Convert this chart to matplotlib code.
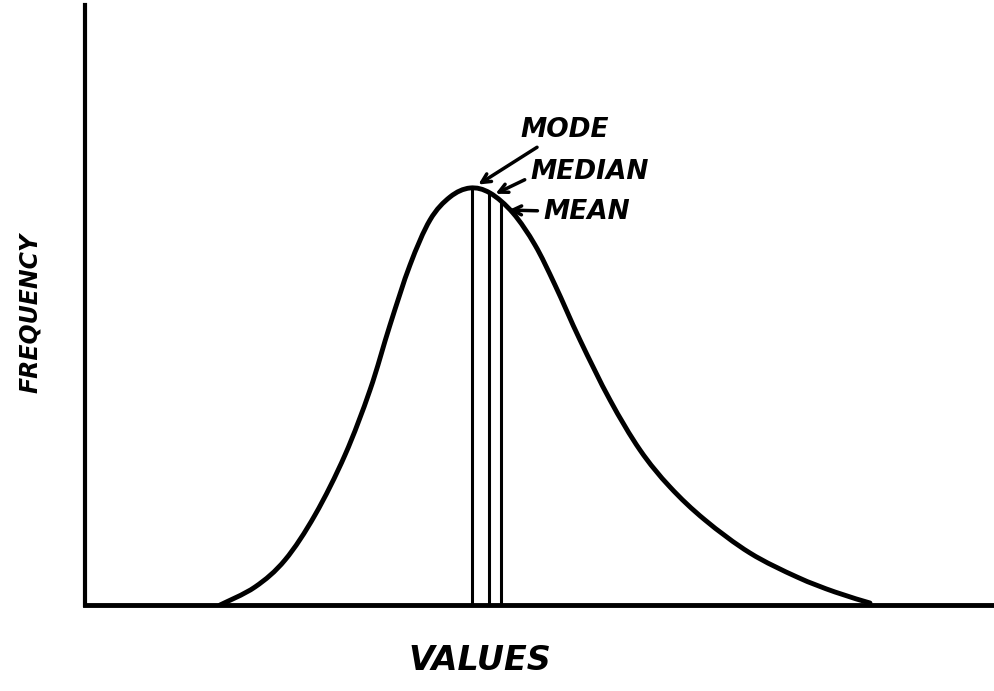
import matplotlib.pyplot as plt
import numpy as np
from matplotlib.path import Path
from matplotlib.patches import PathPatch

# curve (arbitrary value / frequency units)
values = [135, 170, 200, 230, 260, 285, 305, 325, 345, 365, 385, 405,
          428, 450, 470, 495, 525, 555, 585, 620, 665, 712, 750, 785]
frequency = [0, 18, 45, 90, 150, 215, 280, 340, 385, 408, 417, 412,
             392, 360, 320, 265, 205, 155, 118, 85, 52, 28, 13, 2]

stat_names = ['MODE', 'MEDIAN', 'MEAN']
stat_x = [387, 404, 416]
stat_top = [417, 412, 402]

fig = plt.figure(figsize=(9.94, 6.91), dpi=100)
ax = fig.add_axes([85 / 994, 86 / 691, 909 / 994, 600 / 691])
ax.set_xlim(0, 909)
ax.set_ylim(0, 600)

# smooth the hand-read points with a Catmull-Rom style spline
x = np.array(values, float)
y = np.array(frequency, float)
verts = [(x[0], y[0])]
codes = [Path.MOVETO]
for i in range(len(x) - 1):
    p0 = np.array([x[max(i - 1, 0)], y[max(i - 1, 0)]])
    p1 = np.array([x[i], y[i]])
    p2 = np.array([x[i + 1], y[i + 1]])
    p3 = np.array([x[min(i + 2, len(x) - 1)], y[min(i + 2, len(x) - 1)]])
    c1 = p1 + (p2 - p0) / 6
    c2 = p2 - (p3 - p1) / 6
    verts += [tuple(c1), tuple(c2), tuple(p2)]
    codes += [Path.CURVE4] * 3
ax.add_patch(PathPatch(Path(verts, codes), fill=False, lw=3.5,
                       color='black', capstyle='round', joinstyle='round'))

for sx, top in zip(stat_x, stat_top):
    ax.plot([sx, sx], [0, top], color='black', lw=2.2)

font = dict(fontsize=19, fontweight='bold', fontstyle='italic',
            family='DejaVu Sans', color='black')
arrow = dict(arrowstyle='->', lw=2.5, color='black', mutation_scale=16)
ax.annotate(stat_names[0], xy=(stat_x[0] + 4, stat_top[0] + 2), xytext=(435, 475),
            va='center', ha='left', arrowprops=arrow, **font)
ax.annotate(stat_names[1], xy=(stat_x[1] + 4, stat_top[1] - 2), xytext=(445, 433),
            va='center', ha='left', arrowprops=dict(arrow, relpos=(0, 0.3)), **font)
ax.annotate(stat_names[2], xy=(stat_x[2] + 5, 395), xytext=(458, 393),
            va='center', ha='left', arrowprops=arrow, **font)

for side in ['top', 'right']:
    ax.spines[side].set_visible(False)
ax.spines['left'].set_linewidth(3)
ax.spines['bottom'].set_linewidth(3.5)
ax.set_xticks([])
ax.set_yticks([])

fig.text(480 / 994, 1 - 660 / 691, 'VALUES', fontsize=24, fontweight='bold',
         fontstyle='italic', ha='center', va='center')
fig.text(30 / 994, 1 - 313 / 691, 'FREQUENCY', fontsize=17, fontweight='bold',
         fontstyle='italic', ha='center', va='center', rotation=90)

fig.savefig('out.png', dpi=100)
